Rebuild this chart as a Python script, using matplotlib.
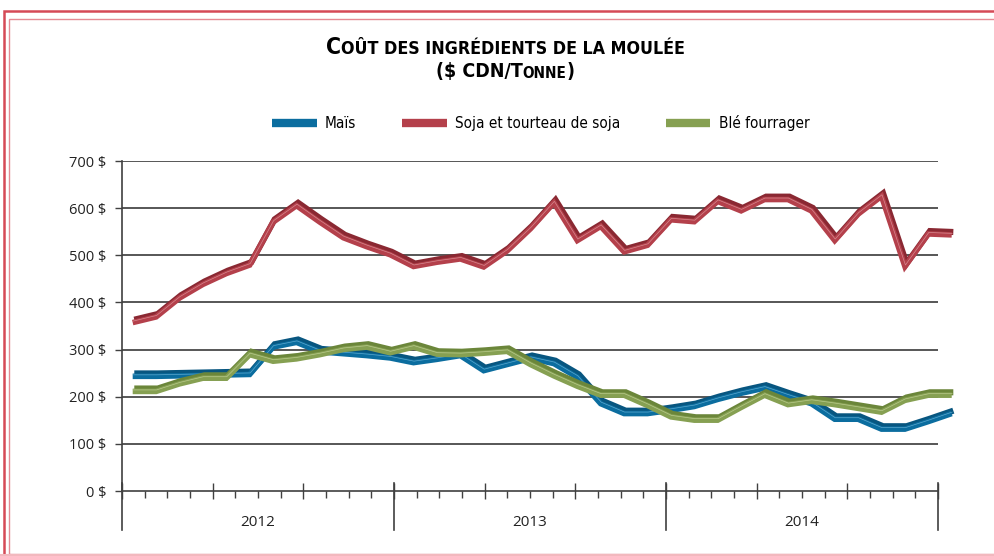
import matplotlib
matplotlib.use("Agg")
import matplotlib.pyplot as plt
import matplotlib.transforms as mtransforms
from matplotlib.lines import Line2D
from matplotlib.patches import Rectangle
from matplotlib.offsetbox import TextArea, HPacker, AnnotationBbox

# ---------------- data ----------------
months = list(range(36))  # Jan 2012 .. Dec 2014
years = ["2012", "2013", "2014"]
mais = [246, 246, 247, 248, 249, 250, 308, 318, 298, 294, 290, 285,
        275, 282, 290, 258, 271, 284, 273, 244, 188, 167, 167, 174,
        182, 197, 210, 221, 204, 188, 155, 155, 134, 134, 150, 167]
soja = [360, 372, 412, 441, 464, 482, 573, 608, 573, 540, 521, 504,
        479, 488, 495, 478, 512, 559, 614, 534, 564, 510, 524, 578,
        574, 617, 597, 621, 621, 597, 534, 590, 628, 479, 548, 546]
ble = [214, 214, 230, 242, 242, 292, 278, 283, 292, 303, 308, 296,
       308, 293, 292, 295, 299, 271, 247, 225, 206, 206, 184, 160,
       153, 153, 180, 206, 186, 193, 186, 178, 170, 195, 206, 206]
series_names = ["Maïs", "Soja et tourteau de soja", "Blé fourrager"]
yticks = [0, 100, 200, 300, 400, 500, 600, 700]
ytick_labels = [f"{v} $" for v in yticks]

colors_front = ["#0b6d9f", "#b4404b", "#86a052"]
colors_top = ["#085680", "#8a2832", "#6b863a"]
colors_hi = ["#6fb6da", "#df9aa0", "#c5d49a"]

W, H = 995, 556
fig = plt.figure(figsize=(W / 100, H / 100), dpi=100)
fig.patch.set_facecolor("white")

# frame (double red border)
fig.add_artist(Rectangle((4 / W, -0.1), 1.2, 1 - 11 / H + 0.1, transform=fig.transFigure,
                         fill=False, edgecolor="#d54a57", lw=1.8))
fig.add_artist(Rectangle((8.5 / W, 2 / H), 1.2, 1 - 19 / H - 2 / H, transform=fig.transFigure,
                         fill=False, edgecolor="#e58a93", lw=1.0))
fig.add_artist(Line2D([0, 1], [1.5 / H, 1.5 / H], transform=fig.transFigure,
                      color="#f2b8be", lw=1.5))

# axes geometry
x0, x1 = 122, 938
y0, y1 = 491, 161
pos = [x0 / W, 1 - y0 / H, (x1 - x0) / W, (y0 - y1) / H]

lab_font = ["Open Sans", "DejaVu Sans"]
cond_family = ["DejaVu Sans", "Open Sans"]

ax = fig.add_axes(pos)
ax.set_xlim(0, 36)
ax.set_ylim(0, 700)
ax.set_facecolor("none")
for s in ["top", "right"]:
    ax.spines[s].set_visible(False)
ax.spines["left"].set_color("#404040")
ax.spines["bottom"].set_color("#404040")
ax.spines["left"].set_linewidth(1.2)
ax.spines["bottom"].set_linewidth(1.2)
ax.set_yticks(yticks)
ax.set_yticklabels(ytick_labels, fontsize=10.5, family=lab_font, color="#222222")
ax.tick_params(axis="y", length=5, width=1, color="#404040", pad=6)
for v in yticks[1:]:
    ax.axhline(v, color="#3a3a3a", lw=1.2, zorder=0)

# category ticks
ax.set_xticks([m for m in range(0, 37, 4)])
ax.set_xticks([m for m in range(37) if m % 4 != 0], minor=True)
ax.set_xticklabels([])
ax.tick_params(axis="x", which="major", direction="inout", length=11, width=1, color="#404040")
ax.tick_params(axis="x", which="minor", direction="out", length=5, width=1, color="#404040")
xt = ax.get_xaxis_transform()
for b in [0, 12, 24, 36]:
    ax.add_artist(Line2D([b, b], [-39 / 330, 8 / 330], transform=xt, color="#404040",
                         lw=1.2, clip_on=False))
for i, yl in enumerate(years):
    ax.text(6 + 12 * i, -32 / 330, yl, transform=xt, ha="center", va="center",
            fontsize=11, family=lab_font, color="#222222")

# data axes (3D-ribbon plane slightly wider than category axis)
axd = fig.add_axes(pos)
axd.set_xlim(-0.457, 34.414)
axd.set_ylim(0, 700)
axd.axis("off")
axd.patch.set_alpha(0)

data = [mais, soja, ble]
draw_order = [1, 2, 0]
for k in draw_order:
    vals = data[k]
    top_tr = mtransforms.offset_copy(axd.transData, fig=fig, x=1.6, y=1.6, units="dots")
    axd.plot(months, vals, color=colors_top[k], lw=4.4, transform=top_tr,
             solid_joinstyle="miter", solid_capstyle="butt", clip_on=False, zorder=3 + k)
    front_tr = mtransforms.offset_copy(axd.transData, fig=fig, x=0, y=-1.3, units="dots")
    axd.plot(months, vals, color=colors_front[k], lw=4.0, transform=front_tr,
             solid_joinstyle="miter", solid_capstyle="butt", clip_on=False, zorder=3 + k)
    hi_tr = mtransforms.offset_copy(axd.transData, fig=fig, x=0.5, y=0.2, units="dots")
    axd.plot(months, vals, color=colors_hi[k], lw=0.5, transform=hi_tr,
             clip_on=False, zorder=3 + k, alpha=0.8)

# legend
handles = [Line2D([], [], color=colors_front[k], lw=6, solid_capstyle="butt") for k in range(3)]
fig.legend(handles, series_names, loc="center", bbox_to_anchor=(541 / W, 1 - 123 / H),
           ncol=3, frameon=False, handlelength=2.9, handletextpad=0.55, columnspacing=3.0,
           prop=dict(size=11, family=cond_family, stretch="condensed"))

# title with small caps imitation
def smallcaps(parts, y, big_size, small_size):
    boxes = []
    for txt, big in parts:
        boxes.append(TextArea(txt, textprops=dict(fontsize=big_size if big else small_size,
                                                  color="black", fontweight="semibold",
                                                  family=cond_family, fontstretch="condensed")))
    pack = HPacker(children=boxes, align="baseline", pad=0, sep=0)
    ab = AnnotationBbox(pack, (505 / W, 1 - y / H), xycoords="figure fraction",
                        frameon=False, box_alignment=(0.5, 0.5))
    fig.add_artist(ab)

smallcaps([("C", True), ("OÛT DES INGRÉDIENTS DE LA MOULÉE", False)], 48, 16.5, 12.8)
smallcaps([("($ CDN/T", True), ("ONNE", False), (")", True)], 72, 14, 11)

fig.savefig("out.png", dpi=100)
